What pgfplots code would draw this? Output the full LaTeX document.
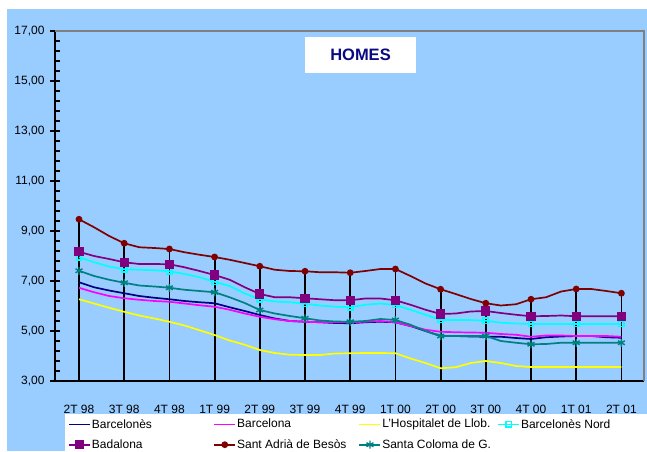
\documentclass[border=0pt]{standalone}
\usepackage{fontspec}
\setmainfont{Liberation Sans}
\usepackage{pgfplots}
\pgfplotsset{compat=1.18}
\usepackage{pgfplotstable}
\definecolor{bgblue}{HTML}{99CCFF}
\definecolor{cnavy}{HTML}{000080}
\definecolor{cmag}{HTML}{FF00FF}
\definecolor{cyel}{HTML}{FFFF00}
\definecolor{ccyan}{HTML}{00FFFF}
\definecolor{cpurp}{HTML}{800080}
\definecolor{cred}{HTML}{800000}
\definecolor{cteal}{HTML}{008080}
\definecolor{titlenavy}{HTML}{0A0A80}

\pgfplotstableread{
x      bcn   bna   hos   bnord bad   sad   scg
0      6.95  6.73  6.27  7.95  8.17  9.47  7.41
0.333  6.75  6.55  6.10  7.75  8.00  9.15  7.20
0.667  6.62  6.40  5.93  7.58  7.88  8.80  7.05
1      6.51  6.31  5.77  7.47  7.75  8.51  6.93
1.333  6.40  6.25  5.62  7.45  7.68  8.35  6.82
1.667  6.33  6.20  5.50  7.43  7.68  8.32  6.78
2      6.27  6.17  5.37  7.39  7.67  8.28  6.73
2.333  6.20  6.10  5.22  7.28  7.55  8.15  6.65
2.667  6.15  6.03  5.03  7.15  7.40  8.05  6.60
3      6.11  5.97  4.84  6.97  7.24  7.96  6.55
3.333  5.95  5.85  4.62  6.80  7.05  7.85  6.35
3.667  5.80  5.70  4.45  6.50  6.75  7.72  6.12
4      5.64  5.57  4.24  6.27  6.48  7.59  5.84
4.333  5.50  5.47  4.12  6.18  6.35  7.45  5.70
4.667  5.40  5.40  4.05  6.15  6.35  7.40  5.60
5      5.37  5.37  4.04  6.09  6.31  7.39  5.51
5.333  5.35  5.35  4.04  6.02  6.27  7.35  5.42
5.667  5.32  5.35  4.10  5.97  6.23  7.35  5.38
6      5.31  5.35  4.11  5.95  6.23  7.33  5.37
6.333  5.35  5.37  4.12  6.05  6.30  7.40  5.40
6.667  5.37  5.40  4.12  6.10  6.30  7.48  5.48
7      5.35  5.35  4.11  6.04  6.23  7.48  5.44
7.333  5.20  5.20  3.90  5.85  6.05  7.20  5.25
7.667  5.00  5.05  3.72  5.65  5.85  6.90  5.00
8      4.80  4.97  3.51  5.44  5.68  6.67  4.80
8.333  4.80  4.95  3.55  5.44  5.70  6.48  4.80
8.667  4.78  4.94  3.72  5.44  5.78  6.28  4.80
9      4.77  4.93  3.80  5.41  5.80  6.11  4.80
9.333  4.77  4.88  3.72  5.33  5.72  6.02  4.60
9.667  4.72  4.85  3.60  5.30  5.65  6.07  4.53
10     4.68  4.77  3.56  5.28  5.59  6.27  4.47
10.333 4.75  4.82  3.56  5.28  5.60  6.35  4.48
10.667 4.78  4.82  3.56  5.28  5.62  6.58  4.53
11     4.80  4.80  3.56  5.28  5.59  6.68  4.53
11.333 4.80  4.80  3.56  5.28  5.59  6.68  4.53
11.667 4.75  4.80  3.56  5.28  5.59  6.60  4.53
12     4.73  4.77  3.56  5.28  5.59  6.51  4.53
}\datatab

\begin{document}
\begin{tikzpicture}
\fill[bgblue] (7pt,0pt) rectangle (647pt,442pt);
\fill[white] (65pt,0pt) rectangle (647pt,37pt);
\begin{axis}[
  name=ax,
  at={(55pt,70pt)}, anchor=south west,
  scale only axis, width=589pt, height=350pt,
  xmin=-0.531, xmax=12.5, ymin=3, ymax=17,
  axis x line*=bottom, axis y line*=left,
  axis line style={-, black, line width=1.6pt},
  /pgf/number format/assume math mode=true,
  ytick={3,5,...,17}, minor y tick num=4,
  yticklabel style={/pgf/number format/fixed, /pgf/number format/precision=2,
    /pgf/number format/fixed zerofill, /pgf/number format/use comma,
    font=\fontsize{12}{14}\selectfont, xshift=-2pt},
  tick align=center, major tick length=10pt, minor tick length=5pt,
  tick style={black, line width=1.5pt},
  minor y tick style={xshift=2.5pt, line width=1.2pt},
  xtick={0,...,12},
  xticklabels={2T 98,3T 98,4T 98,1T 99,2T 99,3T 99,4T 99,1T 00,2T 00,3T 00,4T 00,1T 01,2T 01},
  x tick style={draw=none},
  xticklabel style={font=\fontsize{12}{14}\selectfont, yshift=-16pt},
  legend columns=4,
  legend cell align=left,
  legend style={at={(axis description cs:0.0221,-0.1057)}, anchor=north west,
    draw=none, fill=none, inner sep=0pt, font=\fontsize{12}{14}\selectfont,
    row sep=8pt, nodes={inner sep=1pt}},
  legend image code/.code={\draw[mark repeat=2, mark phase=2] plot coordinates {(0pt,0pt) (10.5pt,0pt) (21pt,0pt)};},
]
\addplot[ycomb, black, line width=1.8pt, forget plot] coordinates {
(0,9.47) (1,8.51) (2,8.28) (3,7.96) (4,7.59) (5,7.39) (6,7.33) (7,7.48) (8,6.67) (9,6.11) (10,6.27) (11,6.68) (12,6.51)};
\addplot[cnavy, line width=1.7pt, no marks] table[x=x, y=bcn] {\datatab};
\addlegendentry{\makebox[120.5pt][l]{Barcelonès}}
\addplot[cmag, line width=1.7pt, no marks] table[x=x, y=bna] {\datatab};
\addlegendentry{\makebox[120.5pt][l]{Barcelona}}
\addplot[cyel, line width=1.7pt, no marks] table[x=x, y=hos] {\datatab};
\addlegendentry{\makebox[114pt][l]{L'Hospitalet de Llob.}}
\addplot[ccyan, line width=1.7pt, mark=square, mark size=2.7pt, mark repeat=3, mark options={solid, line width=1.3pt}] table[x=x, y=bnord] {\datatab};
\addlegendentry{Barcelonès Nord}
\addplot[cpurp, line width=1.7pt, mark=square*, mark size=3.7pt, mark repeat=3] table[x=x, y=bad] {\datatab};
\addlegendentry{\makebox[120.5pt][l]{Badalona}}
\addplot[cred, line width=1.7pt, mark=*, mark size=2.5pt, mark repeat=3] table[x=x, y=sad] {\datatab};
\addlegendentry{\makebox[120.5pt][l]{Sant Adrià de Besòs}}
\addplot[cteal, line width=1.7pt, mark=asterisk, mark size=4pt, mark repeat=3, mark options={line width=1.4pt}] table[x=x, y=scg] {\datatab};
\addlegendentry{\makebox[114pt][l]{Santa Coloma de G.}}
\end{axis}
\draw[gray, line width=1.2pt] (ax.north west) -- (ax.north east) -- (ax.south east);
\node[fill=white, minimum width=111pt, minimum height=36pt, inner sep=0pt,
  font=\bfseries\fontsize{16.5}{19}\selectfont, text=titlenavy] at (360.5pt,396pt) {HOMES};
\pgfresetboundingbox
\useasboundingbox (0pt,0pt) rectangle (647pt,451pt);
\end{tikzpicture}
\end{document}
